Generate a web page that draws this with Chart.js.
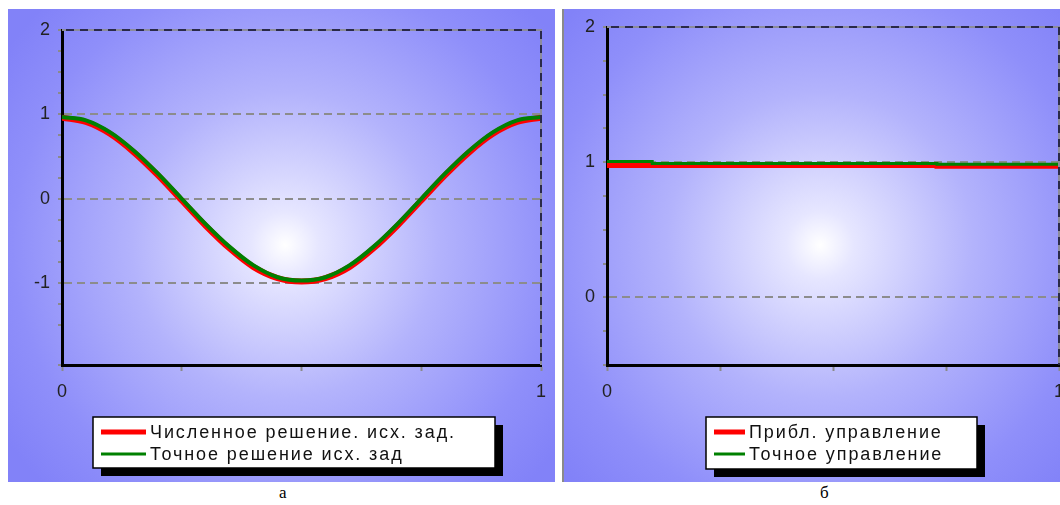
<!DOCTYPE html>
<html>
<head>
<meta charset="utf-8">
<script src="https://cdn.jsdelivr.net/npm/chart.js@4.4.1/dist/chart.umd.min.js"></script>
<style>
    body { margin: 0; background: #fff; width: 1060px; height: 505px; position: relative; overflow: hidden; }
    canvas { position: absolute; }
    #chartA { left: 8px; top: 9px; }
    #chartB { left: 562px; top: 9px; }
    .caption { position: absolute; top: 483px; font: 17px "Liberation Serif", serif; color: #000; }
</style>
</head>
<body>
<canvas id="chartA" width="547" height="473"></canvas>
<canvas id="chartB" width="498" height="473"></canvas>
<div class="caption" style="left:279px">а</div>
<div class="caption" style="left:820px">б</div>
<script>
// панель а: решение исходной задачи
const solX = [0, 0.05, 0.1, 0.15, 0.2, 0.25, 0.3, 0.35, 0.4, 0.45, 0.5,
              0.55, 0.6, 0.65, 0.7, 0.75, 0.8, 0.85, 0.9, 0.95, 1];
const numericSolution = [0.96, 0.91, 0.77, 0.55, 0.28, -0.02, -0.32, -0.59, -0.81, -0.94, -0.98,
                         -0.94, -0.81, -0.59, -0.32, -0.02, 0.28, 0.55, 0.77, 0.91, 0.96];
const exactSolution = [0.97, 0.93, 0.79, 0.57, 0.30, 0.00, -0.30, -0.57, -0.79, -0.93, -0.97,
                       -0.93, -0.79, -0.57, -0.30, 0.00, 0.30, 0.57, 0.79, 0.93, 0.97];

// панель б: управление
const approxControlX = [0, 0.73, 1];
const approxControl = [0.975, 0.97, 0.97];
const exactControlX = [0, 0.1, 0.73, 1];
const exactControl = [1.005, 0.99, 0.985, 0.985];

const labelsA = ['Численное решение. исх. зад.', 'Точное решение исх. зад'];
const labelsB = ['Прибл. управление', 'Точное управление'];

const yTicksA = [-1, 0, 1, 2];
const yTicksB = [0, 1, 2];
const xTicks = [0, 1];

function toPoints(xs, ys) {
    return xs.map((x, i) => ({x: x, y: ys[i]}));
}

function isOneOf(v, list) {
    return list.some(t => Math.abs(t - v) < 1e-6);
}

const panelBackground = {
    id: 'panelBackground',
    beforeDraw(chart, args, opts) {
        const ctx = chart.ctx;
        const w = chart.width, h = chart.height;
        const g = ctx.createRadialGradient(opts.cx, opts.cy, 0, opts.cx, opts.cy, 340);
        g.addColorStop(0, '#ffffff');
        g.addColorStop(0.1, '#e6e6ff');
        g.addColorStop(0.45, '#b3b3fc');
        g.addColorStop(0.8, '#8f8ffa');
        g.addColorStop(1, '#8282f8');
        ctx.save();
        ctx.fillStyle = g;
        ctx.fillRect(0, 0, w, h);
        if (opts.leftBorder) {
            ctx.fillStyle = '#8a8a8a';
            ctx.fillRect(0, 0, 2, h);
        }
        ctx.restore();
    }
};

const dashedFrame = {
    id: 'dashedFrame',
    afterDatasetsDraw(chart) {
        const ctx = chart.ctx;
        const a = chart.chartArea;
        ctx.save();
        ctx.lineWidth = 2;
        ctx.strokeStyle = '#8c8c9c';
        ctx.beginPath();
        ctx.moveTo(a.left, a.top);
        ctx.lineTo(a.right, a.top);
        ctx.lineTo(a.right, a.bottom);
        ctx.stroke();
        ctx.setLineDash([8, 6]);
        ctx.strokeStyle = '#2a2a48';
        ctx.beginPath();
        ctx.moveTo(a.left + 4, a.top);
        ctx.lineTo(a.right, a.top);
        ctx.lineTo(a.right, a.bottom);
        ctx.stroke();
        ctx.restore();
    }
};

const boxLegend = {
    id: 'boxLegend',
    afterDraw(chart, args, opts) {
        const ctx = chart.ctx;
        ctx.save();
        ctx.fillStyle = '#000';
        ctx.fillRect(opts.x + 8, opts.y + 8, opts.w, opts.h);
        ctx.fillStyle = '#fff';
        ctx.fillRect(opts.x, opts.y, opts.w, opts.h);
        ctx.lineWidth = 1.5;
        ctx.strokeStyle = '#000';
        ctx.strokeRect(opts.x, opts.y, opts.w, opts.h);
        ctx.font = '18px "Liberation Sans", Arial, sans-serif';
        ctx.letterSpacing = '1.9px';
        ctx.textBaseline = 'middle';
        chart.data.datasets.forEach((ds, i) => {
            const y = opts.y + 15 + i * 22;
            ctx.strokeStyle = ds.borderColor;
            ctx.lineWidth = i === 0 ? 5 : 3;
            ctx.beginPath();
            ctx.moveTo(opts.x + 8, y);
            ctx.lineTo(opts.x + 8 + opts.lineLen, y);
            ctx.stroke();
            ctx.fillStyle = '#111';
            ctx.fillText(ds.label, opts.x + 12 + opts.lineLen, y + 1);
        });
        ctx.restore();
    }
};

function makeOptions(yMin, yTicks, yWidth, pad, legend, bg) {
    return {
        responsive: false,
        animation: false,
        layout: { padding: pad },
        plugins: {
            legend: { display: false },
            tooltip: { enabled: false },
            boxLegend: legend,
            panelBackground: bg
        },
        scales: {
            x: {
                type: 'linear',
                min: 0,
                max: 1,
                afterFit: (s) => { s.height = 40; s.paddingLeft = 0; s.paddingRight = 0; },
                border: { display: true, color: '#000', width: 3 },
                grid: { drawOnChartArea: false, tickLength: 6, tickColor: '#8a8a8a', tickWidth: 2 },
                ticks: {
                    stepSize: 0.25,
                    autoSkip: false,
                    maxRotation: 0,
                    padding: 10,
                    color: '#222',
                    font: { family: '"Liberation Sans", Arial, sans-serif', size: 18 },
                    callback: (v) => isOneOf(v, xTicks) ? String(Math.round(v)) : ''
                }
            },
            y: {
                min: yMin,
                max: 2,
                afterFit: (s) => { s.width = yWidth; s.paddingTop = 0; s.paddingBottom = 0; },
                border: { display: true, color: '#000', width: 3, dash: [8, 5] },
                grid: {
                    lineWidth: 2,
                    color: (c) => isOneOf(c.tick.value, yTicks) ? '#8c8c8c' : 'rgba(0,0,0,0)',
                    tickColor: '#8a8a8a',
                    tickWidth: 2,
                    tickLength: 4,
                    tickBorderDash: []
                },
                ticks: {
                    stepSize: 0.25,
                    autoSkip: false,
                    padding: 8,
                    color: '#222',
                    font: { family: '"Liberation Sans", Arial, sans-serif', size: 18 },
                    callback: (v) => isOneOf(v, yTicks) ? String(Math.round(v)) : ''
                }
            }
        }
    };
}

const chartA = new Chart(document.getElementById('chartA'), {
    type: 'line',
    data: {
        datasets: [
            {
                label: labelsA[0],
                data: toPoints(solX, numericSolution),
                borderColor: '#ff0000',
                borderWidth: 6,
                pointRadius: 0,
                cubicInterpolationMode: 'monotone',
                order: 1
            },
            {
                label: labelsA[1],
                data: toPoints(solX, exactSolution),
                borderColor: '#008000',
                borderWidth: 4,
                pointRadius: 0,
                cubicInterpolationMode: 'monotone',
                order: 0
            }
        ]
    },
    options: makeOptions(-1.97, yTicksA, 54,
        { left: 0, top: 21, right: 14, bottom: 77 },
        { x: 85, y: 408, w: 402, h: 51, lineLen: 45 },
        { cx: 277, cy: 236, leftBorder: false }),
    plugins: [panelBackground, dashedFrame, boxLegend]
});

const chartB = new Chart(document.getElementById('chartB'), {
    type: 'line',
    data: {
        datasets: [
            {
                label: labelsB[0],
                data: toPoints(approxControlX, approxControl),
                borderColor: '#ff0000',
                borderWidth: 5,
                pointRadius: 0,
                stepped: 'before',
                order: 1
            },
            {
                label: labelsB[1],
                data: toPoints(exactControlX, exactControl),
                borderColor: '#008000',
                borderWidth: 3,
                pointRadius: 0,
                stepped: 'before',
                order: 0
            }
        ]
    },
    options: makeOptions(-0.5, yTicksB, 45,
        { left: 0, top: 18, right: 1, bottom: 77 },
        { x: 144, y: 408, w: 271, h: 52, lineLen: 31 },
        { cx: 258, cy: 236, leftBorder: true }),
    plugins: [panelBackground, dashedFrame, boxLegend]
});
</script>
</body>
</html>
